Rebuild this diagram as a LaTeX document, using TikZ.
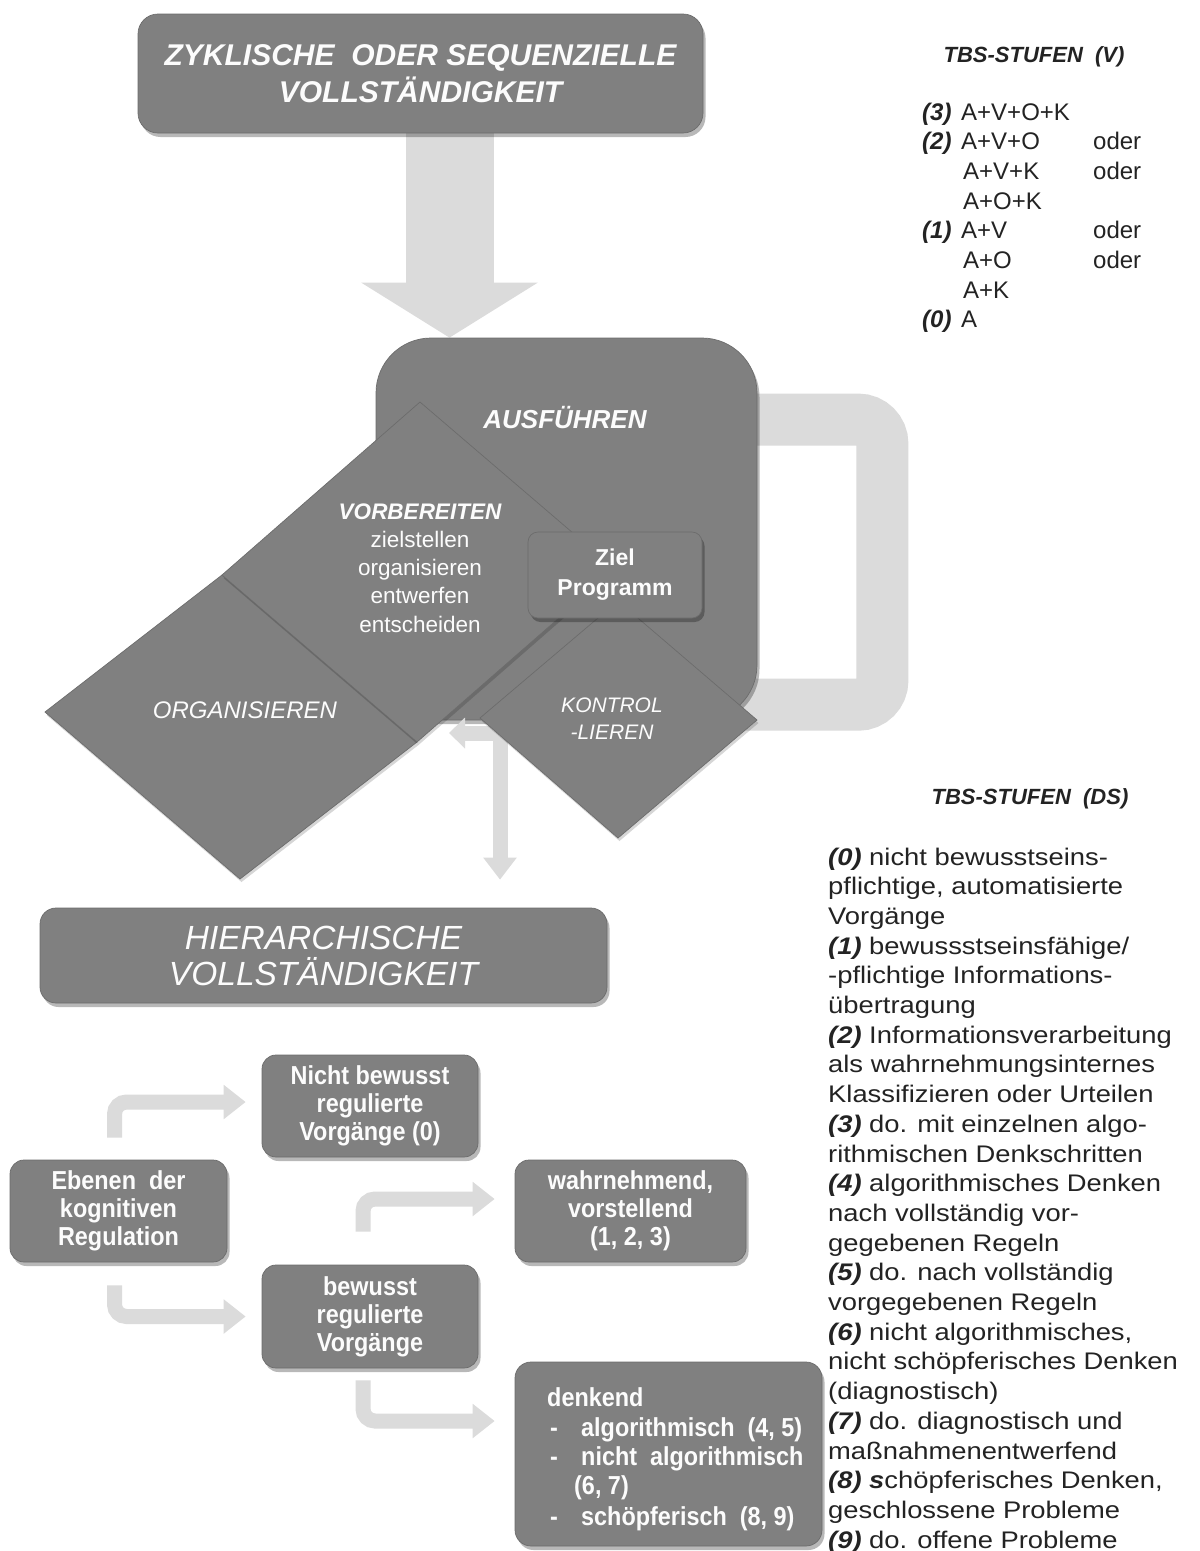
\documentclass[tikz,border=0pt]{standalone}
\usepackage{fontspec}
\setmainfont{Liberation Sans}
\newfontfamily\narf[FakeStretch=0.9]{Liberation Sans}
\newfontfamily\widf[FakeStretch=1.14]{Liberation Sans}
\usetikzlibrary{arrows.meta,shadows,calc}
\pgfdeclarelayer{paper}
\pgfdeclarelayer{back}
\pgfsetlayers{paper,back,main}
\definecolor{boxgray}{RGB}{128,128,128}
\definecolor{edgegray}{RGB}{108,108,108}
\definecolor{lightg}{RGB}{219,219,219}
\definecolor{txtw}{RGB}{252,252,252}
\definecolor{listtxt}{RGB}{35,35,35}
\newcommand\numfmt[1]{\textbf{\textit{#1}}}
\newcommand\setfs[2]{\fontsize{#1}{#2}\selectfont}
\begin{document}
\begin{tikzpicture}[x=1pt,y=-1pt,
  shdw/.style={drop shadow={shadow xshift=2.5pt,shadow yshift=-4pt,opacity=0.28,fill=black}},
  dshdw/.style={drop shadow={shadow xshift=1.5pt,shadow yshift=-3pt,opacity=0.16,fill=black}},
  gbox/.style={shdw,fill=boxgray,draw=edgegray,line width=0.7pt,text=txtw,align=center,inner sep=0pt},
  dshape/.style={dshdw,fill=boxgray,draw=edgegray,line width=0.7pt},
  lowtxt/.style={font=\narf\bfseries\setfs{26}{28}},
  lightarr/.style={draw=lightg,line width=15pt,rounded corners=12pt,-{Triangle[length=22pt,width=33pt]}},
  vline/.style={anchor=base west,inner sep=0pt,text=listtxt,font=\setfs{24}{29}},
  dsline/.style={anchor=base west,inner sep=0pt,text=listtxt,font=\widf\setfs{24}{29}},
  dkl/.style={anchor=base west,inner sep=0pt,text=txtw,font=\narf\bfseries\setfs{26}{29}},
  dtxt/.style={text=txtw,align=center,inner sep=0pt},
  headtxt/.style={anchor=base,inner sep=0pt,text=listtxt,font=\bfseries\itshape\setfs{22}{26}}
]
\useasboundingbox (0,0) rectangle (1200,1551);
\begin{pgfonlayer}{paper}
  \fill[white] (0,0) rectangle (1200,1551);
\end{pgfonlayer}

% ---------- top box ----------
\node[gbox,rounded corners=20pt,minimum width=565pt,minimum height=119pt,
      font=\bfseries\itshape\setfs{30}{37}] (zyk) at (420.5,73.5)
      {ZYKLISCHE\ \ ODER SEQUENZIELLE\\VOLLSTÄNDIGKEIT};

% ---------- AUSFUEHREN ----------
\node[gbox,rounded corners=55pt,minimum width=381pt,minimum height=382pt] (aus) at (566.5,529) {};
\node[dtxt,font=\bfseries\itshape\setfs{26}{30}] (ausl) at (565,418) {AUSFÜHREN};

% ---------- HIERARCHISCHE ----------
\node[gbox,rounded corners=16pt,minimum width=567pt,minimum height=95pt,
      font=\itshape\setfs{33.5}{36}] (hier) at (323.5,955.5)
      {HIERARCHISCHE\\VOLLSTÄNDIGKEIT};

% ---------- arrow from diamonds to HIERARCHISCHE ----------
\coordinate (midL) at (449,733);
\draw[draw=lightg,line width=15pt,{Triangle[length=16pt,width=30pt]}-{Triangle[length=22pt,width=32pt]}]
  (midL) -| ($(hier.north)+(176.5,-28)$);

% ---------- diamonds ----------
\path[dshape] (618,601) -- (757,720) -- (618,838) -- (480,718) -- cycle;
\path[dshape] (45,712) -- (222,575) -- (417,742) -- (240,879) -- cycle;
\path[dshape] (420,402) -- (615,569) -- (417,742) -- (222,575) -- cycle;

\node[dtxt,font=\setfs{22.5}{28.2}] (vort) at (420,568)
  {{\bfseries\itshape VORBEREITEN}\\zielstellen\\organisieren\\entwerfen\\entscheiden};
\node[dtxt,font=\itshape\setfs{24}{28}] (orgt) at (245,710) {ORGANISIEREN};
\node[dtxt,font=\itshape\setfs{21}{27}] (kont) at (612,719) {KONTROL\\-LIEREN};

\node[gbox,rounded corners=10pt,minimum width=174pt,minimum height=86pt,
      font=\bfseries\setfs{23}{30}] (ziel) at (615,575) {Ziel\\Programm};

% ---------- lower boxes ----------
\node[gbox,lowtxt,rounded corners=14pt,minimum width=216pt,minimum height=102pt] (nb) at (370,1106)
  {Nicht bewusst\\regulierte\\Vorgänge (0)};
\node[gbox,lowtxt,rounded corners=14pt,minimum width=217pt,minimum height=102pt] (eb) at (118.5,1211)
  {Ebenen\ \ der\\kognitiven\\Regulation};
\node[gbox,lowtxt,rounded corners=14pt,minimum width=231pt,minimum height=102pt] (wn) at (630.5,1211)
  {wahrnehmend,\\vorstellend\\(1, 2, 3)};
\node[gbox,lowtxt,rounded corners=14pt,minimum width=216pt,minimum height=103pt] (bw) at (370,1316.5)
  {bewusst\\regulierte\\Vorgänge};
\node[gbox,rounded corners=16pt,minimum width=307pt,minimum height=184pt] (dk) at (668.5,1454) {};

\node[dkl] (dk1) at (547,1406) {denkend};
\node[dkl] (dk2d) at (550,1436) {-};
\node[dkl] (dk2) at (581,1436) {algorithmisch\ \ (4, 5)};
\node[dkl] (dk3d) at (550,1465) {-};
\node[dkl] (dk3) at (581,1465) {nicht\ \ algorithmisch};
\node[dkl] (dk4) at (574,1494) {(6, 7)};
\node[dkl] (dk5d) at (550,1525) {-};
\node[dkl] (dk5) at (581,1525) {schöpferisch\ \ (8, 9)};

% ---------- background arrows ----------
\coordinate (bigA) at ([xshift=29pt]zyk.south);
\coordinate (bigB) at (bigA |- aus.north);
\begin{pgfonlayer}{back}
  \draw[draw=lightg,line width=88pt,-{Triangle[length=55pt,width=174pt]}] (bigA) -- (bigB);
  \draw[draw=lightg,line width=52pt,rounded corners=24pt]
    ($(aus.north east)+(-50,82)$) -- ++(175,0) -- ++(0,285) -- ++(-175,0);
  \draw[lightarr,shorten >=16pt] ([xshift=-4pt,yshift=22pt]eb.north) |- ([yshift=4pt]nb.west);
  \draw[lightarr,shorten >=16pt] ([xshift=-4pt,yshift=-23pt]eb.south) |- (bw.west);
  \draw[lightarr,shorten >=20pt] ([xshift=-7pt,yshift=33pt]bw.north) |- ([yshift=12pt]wn.west);
  \draw[lightarr,shorten >=20pt] ([xshift=-7pt,yshift=-12pt]bw.south) |- ([yshift=33pt]dk.west);
\end{pgfonlayer}

% ---------- TBS-STUFEN (V) ----------
\node[headtxt] (hv) at (1034,62) {TBS-STUFEN\ \ (V)};
\node[vline] (v1n) at (922,120) {\numfmt{(3)}};
\node[vline] (v1)  at (961,120) {A+V+O+K};
\node[vline] (v2n) at (922,149.7) {\numfmt{(2)}};
\node[vline] (v2)  at (961,149.7) {A+V+O};
\node[vline] (v2o) at (1093,149.7) {oder};
\node[vline] (v3)  at (963,179.4) {A+V+K};
\node[vline] (v3o) at (1093,179.4) {oder};
\node[vline] (v4)  at (963,209.1) {A+O+K};
\node[vline] (v5n) at (922,238.8) {\numfmt{(1)}};
\node[vline] (v5)  at (961,238.8) {A+V};
\node[vline] (v5o) at (1093,238.8) {oder};
\node[vline] (v6)  at (963,268.5) {A+O};
\node[vline] (v6o) at (1093,268.5) {oder};
\node[vline] (v7)  at (963,298.2) {A+K};
\node[vline] (v8n) at (922,327.9) {\numfmt{(0)}};
\node[vline] (v8)  at (961,327.9) {A};

% ---------- TBS-STUFEN (DS) ----------
\node[headtxt] (hds) at (1030,804) {TBS-STUFEN\ \ (DS)};
\foreach \txt [count=\i] in {
  {\numfmt{(0)} nicht bewusstseins-},
  {pflichtige, automatisierte},
  {Vorgänge},
  {\numfmt{(1)} bewussstseinsfähige/},
  {-pflichtige Informations-},
  {übertragung},
  {\numfmt{(2)} Informationsverarbeitung},
  {als wahrnehmungsinternes},
  {Klassifizieren oder Urteilen},
  {\numfmt{(3)} do. mit einzelnen algo-},
  {rithmischen Denkschritten},
  {\numfmt{(4)} algorithmisches Denken},
  {nach vollständig vor-},
  {gegebenen Regeln},
  {\numfmt{(5)} do. nach vollständig},
  {vorgegebenen Regeln},
  {\numfmt{(6)} nicht algorithmisches,},
  {nicht schöpferisches Denken},
  {(diagnostisch)},
  {\numfmt{(7)} do. diagnostisch und},
  {maßnahmenentwerfend},
  {\numfmt{(8) s}chöpferisches Denken,},
  {geschlossene Probleme},
  {\numfmt{(9)} do. offene Probleme}}
  \node[dsline] (ds\i) at (828,{865+29.7*(\i-1)}) {\txt};
\end{tikzpicture}
\end{document}
